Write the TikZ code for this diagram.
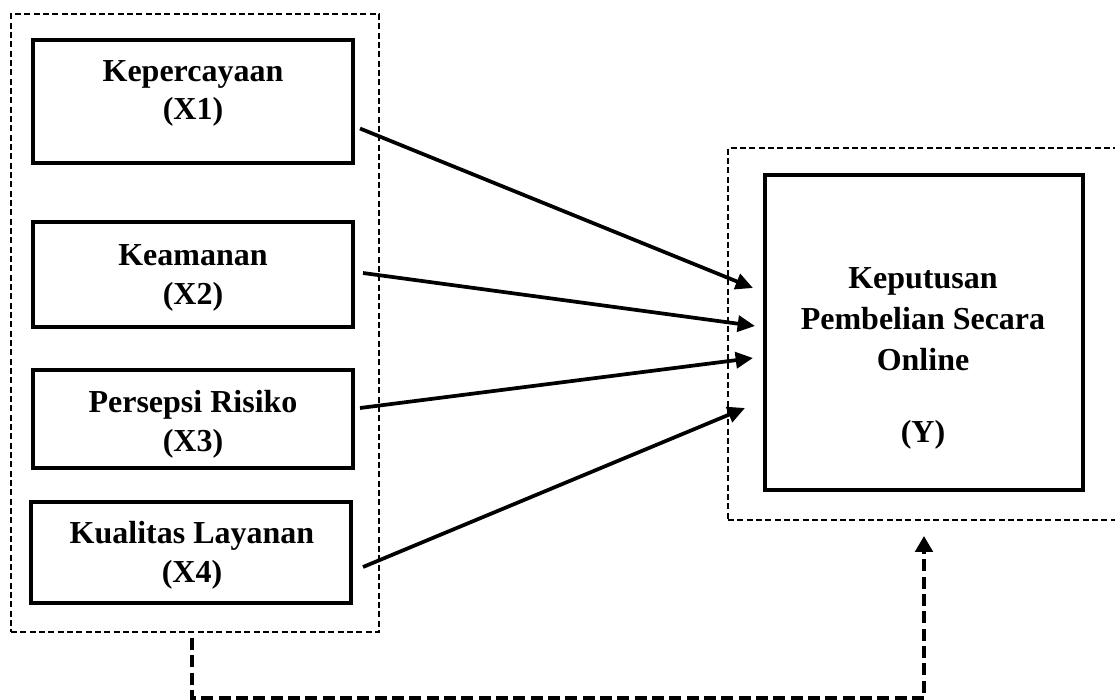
\documentclass[tikz,border=0pt]{standalone}
\usepackage{fontspec}
\setmainfont{Liberation Serif}
\usetikzlibrary{arrows.meta,calc}

\tikzset{
    varbox/.style={draw, line width=3pt, inner sep=0pt, minimum width=240pt},
    vartext/.style={align=center, font=\bfseries\fontsize{24}{29}\selectfont},
    groupbox/.style={draw, line width=1.4pt, dash pattern=on 4.5pt off 2.5pt, inner sep=0pt},
    effect/.style={line width=2.8pt, -{Triangle[length=13pt,width=12pt]}},
    feedback/.style={line width=3.2pt, dash pattern=on 9pt off 4pt, -{Triangle[length=12pt,width=13pt]}}
}

\begin{document}
\begin{tikzpicture}[x=0.75pt,y=-0.75pt]
\useasboundingbox (0,0) rectangle (1115,700);

%Group boxes
\node[groupbox, minimum width=276pt, minimum height=463.5pt] (left) at (195,323) {};
\node[groupbox, minimum width=297.75pt, minimum height=279pt] (right) at (926.5,334) {};

%Independent variables
\node[varbox, minimum height=92.25pt] (x1) at (193,101.5) {};
\node[varbox, minimum height=78.75pt] (x2) at (193,274.5) {};
\node[varbox, minimum height=73.5pt] (x3) at (193,419) {};
\node[varbox, minimum height=75.75pt] (x4) at (191,552.5) {};

%Dependent variable
\node[varbox, minimum width=238.5pt, minimum height=236.25pt] (y) at (924,332.5) {};

% Text Node
\node[vartext] (x1t) at (193,93.5) {Kepercayaan\\(X1)};
% Text Node
\node[vartext] (x2t) at (193,278) {Keamanan\\(X2)};
% Text Node
\node[vartext] (x3t) at (193,424) {Persepsi Risiko\\(X3)};
% Text Node
\node[vartext] (x4t) at (192,555.5) {Kualitas Layanan\\(X4)};
% Text Node
\node[vartext, font=\bfseries\fontsize{24}{31}\selectfont] (yt) at (923,358.5) {Keputusan\\Pembelian Secara\\Online\\[23pt](Y)};

%Straight Lines
\draw[effect] ($(x1.east)+(5,27)$) -- ($(y.west)+(-10,-44.5)$);
\draw[effect] ($(x2.east)+(8,-1.5)$) -- ($(y.west)+(-8,-6.5)$);
\draw[effect] ($(x3.east)+(5,-11)$) -- ($(y.west)+(-10,25.5)$);
\draw[effect] ($(x4.east)+(10,14.5)$) -- ($(y.west)+(-18,75.5)$);

%Simultaneous effect
\draw[feedback] ($(left.south)+(-3,5)$) -- ++(0,60) -| ($(y.south |- right.south)+(0,15)$);

\end{tikzpicture}
\end{document}
